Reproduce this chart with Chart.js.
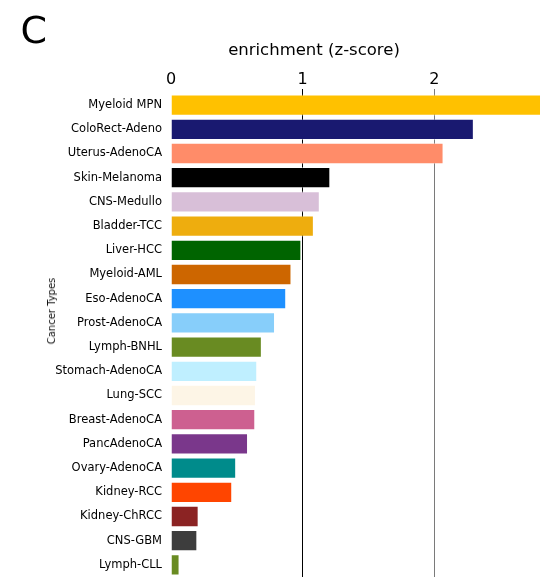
<!DOCTYPE html>
<html>
<head>
<meta charset="utf-8">
<script src="https://cdn.jsdelivr.net/npm/chart.js@4"></script>
<style>
  html, body { margin: 0; padding: 0; background: #fff; }
  #wrap { position: relative; width: 550px; height: 583px; font-family: "DejaVu Sans", sans-serif; font-weight: normal; }
  #panel { position: absolute; left: 20.5px; top: 10.5px; font-size: 38px; line-height: 1; color: #000; }
  #xtitle { position: absolute; left: 164px; width: 300px; top: 41.5px; font-size: 16.5px; line-height: 1; text-align: center; color: #000; }
  #ytitle { position: absolute; left: 51.5px; top: 311px; font-size: 10px; line-height: 1; white-space: nowrap; color: #111; font-weight: normal;
            transform: translate(-50%, -50%) rotate(-90deg); }
  canvas { position: absolute; left: 0; top: 0; }
</style>
</head>
<body>
<div id="wrap">
  <canvas id="myChart" width="550" height="583"></canvas>
  <div id="panel">C</div>
  <div id="xtitle">enrichment (z-score)</div>
  <div id="ytitle">Cancer Types</div>
</div>
<script>
var tipos = ['Myeloid MPN', 'ColoRect-Adeno', 'Uterus-AdenoCA', 'Skin-Melanoma', 'CNS-Medullo',
    'Bladder-TCC', 'Liver-HCC', 'Myeloid-AML', 'Eso-AdenoCA', 'Prost-AdenoCA', 'Lymph-BNHL',
    'Stomach-AdenoCA', 'Lung-SCC', 'Breast-AdenoCA', 'PancAdenoCA', 'Ovary-AdenoCA', 'Kidney-RCC',
    'Kidney-ChRCC', 'CNS-GBM', 'Lymph-CLL'];
var zscore = [2.81, 2.30, 2.07, 1.21, 1.13, 1.085, 0.99, 0.915, 0.875, 0.79, 0.69,
    0.655, 0.645, 0.64, 0.585, 0.495, 0.465, 0.21, 0.20, 0.065];
var cores = ['#FFC100', '#191970', '#FF8C69', '#000000', '#D8BFD8', '#EEAD0E', '#006400',
    '#CD6600', '#1E90FF', '#87CEFA', '#698B22', '#BFEFFF', '#FDF5E6', '#CD6090', '#7A378B',
    '#008B8B', '#FF4500', '#8B2323', '#3D3D3D', '#698B22'];
var xTicks = [0, 1, 2];
var xMax = 2.81;

// grade so em 1 (preta) e 2 (cinza)
function corGrade(ctx) {
    var v = ctx.tick ? ctx.tick.value : null;
    if (v === 1) return '#000000';
    if (v === 2) return '#7a7a7a';
    return 'rgba(0,0,0,0)';
}

let ctx = document.getElementById('myChart').getContext('2d');
let myChart = new Chart(ctx, {
    type: 'bar',
    data: {
        labels: tipos,
        datasets: [{
            data: zscore,
            backgroundColor: cores,
            borderColor: 'rgba(255,255,255,0.45)',
            borderWidth: 1,
            barPercentage: 0.88,
            categoryPercentage: 1
        }]
    },
    options: {
        indexAxis: 'y',
        responsive: false,
        animation: false,
        layout: { padding: { left: 0, right: 9, top: 0, bottom: 6 } },
        plugins: {
            legend: { display: false },
            tooltip: { enabled: false }
        },
        scales: {
            x: {
                position: 'top',
                min: 0,
                max: xMax,
                afterBuildTicks: function (axis) {
                    axis.ticks = xTicks.map(function (v) { return { value: v }; });
                },
                afterFit: function (axis) {
                    axis.height = 93;
                    axis.paddingLeft = 0;
                    axis.paddingRight = 0;
                },
                border: { display: false },
                grid: {
                    color: corGrade,
                    lineWidth: 1,
                    drawTicks: true,
                    tickLength: 4
                },
                ticks: {
                    color: '#000',
                    padding: 0,
                    font: { family: 'DejaVu Sans', size: 16 }
                }
            },
            y: {
                afterFit: function (axis) {
                    axis.width = 171;
                    axis.paddingTop = 0;
                    axis.paddingBottom = 0;
                },
                border: { display: false },
                grid: { display: false, drawTicks: false },
                ticks: {
                    color: '#000',
                    padding: 9,
                    font: { family: 'DejaVu Sans', size: 11.5 }
                }
            }
        }
    }
});
</script>
</body>
</html>
